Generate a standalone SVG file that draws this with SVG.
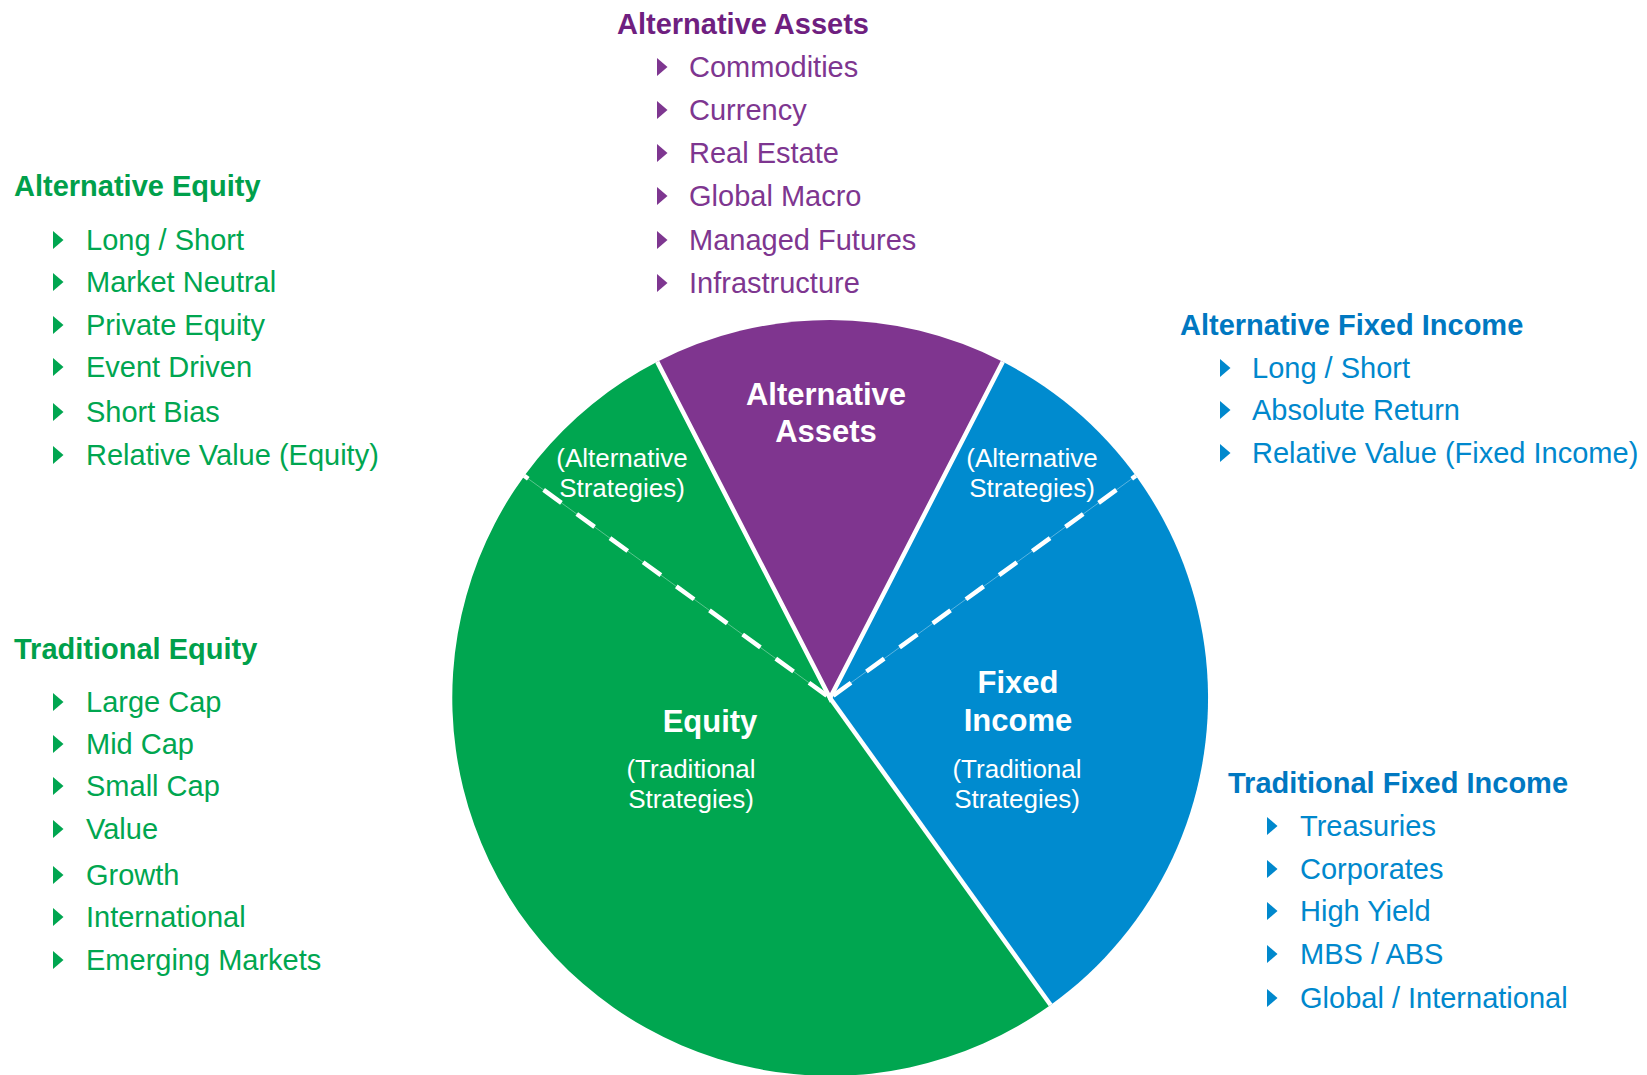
<svg xmlns="http://www.w3.org/2000/svg" xmlns:xlink="http://www.w3.org/1999/xlink" width="1647" height="1075" viewBox="0 0 1647 1075">
  <style>
    text { font-family: "Liberation Sans", Arial, sans-serif; }
    .hd { font-size: 29px; font-weight: bold; }
    .it { font-size: 29px; }
    .pl { font-size: 31px; font-weight: bold; fill: #ffffff; text-anchor: middle; }
    .ps { font-size: 26px; fill: #ffffff; text-anchor: middle; }
    .g-hd { fill: #00A04B; } .g-it { fill: #00A650; }
    .p-hd { fill: #6F1F80; } .p-it { fill: #7E3690; }
    .b-hd { fill: #0078C1; } .b-it { fill: #0088CD; }
    .sep { stroke: #ffffff; stroke-width: 4.5; fill: none; }
    .dash { stroke: #ffffff; stroke-width: 4.5; fill: none; stroke-dasharray: 22 19; stroke-dashoffset: 17; }
    .hair { stroke: #ffffff; stroke-width: 1; stroke-opacity: 0.35; fill: none; }
  </style>
  <defs>
    <!-- list bullet: right-pointing triangle, origin on the text baseline -->
    <path id="bullet" d="M0,-19 L10.5,-10 L0,-1 Z"/>
  </defs>
  <rect width="1647" height="1075" fill="#ffffff"/>

  <!-- Pie slices, centre (830,698), r 378 -->
  <g id="slice-equity">
    <path d="M830,698 L1050.6,1005 A378,378 0 1 1 657.2,361.8 Z" fill="#00A650"/>
    <text class="pl" x="710" y="732">Equity</text>
    <text class="ps" x="691" y="778">(Traditional</text>
    <text class="ps" x="691" y="808">Strategies)</text>
    <text class="ps" x="622" y="467">(Alternative</text>
    <text class="ps" x="622" y="497">Strategies)</text>
  </g>
  <g id="slice-alternative-assets">
    <path d="M830,698 L657.2,361.8 A378,378 0 0 1 1002.8,361.8 Z" fill="#7F358F"/>
    <text class="pl" x="826" y="405">Alternative</text>
    <text class="pl" x="826" y="442">Assets</text>
  </g>
  <g id="slice-fixed-income">
    <path d="M830,698 L1002.8,361.8 A378,378 0 0 1 1050.6,1005 Z" fill="#008BCF"/>
    <text class="pl" x="1018" y="693">Fixed</text>
    <text class="pl" x="1018" y="731">Income</text>
    <text class="ps" x="1017" y="778">(Traditional</text>
    <text class="ps" x="1017" y="808">Strategies)</text>
    <text class="ps" x="1032" y="467">(Alternative</text>
    <text class="ps" x="1032" y="497">Strategies)</text>
  </g>

  <!-- Slice dividers -->
  <g id="connectors">
    <path class="hair" d="M524.2,475.8 L830,698"/>
    <path class="hair" d="M1135.8,475.8 L830,698"/>
    <path class="dash" d="M524.2,475.8 L830,698"/>
    <path class="dash" d="M1135.8,475.8 L830,698"/>
    <path class="sep" d="M657.2,361.8 L830,698 L1002.8,361.8"/>
    <path class="sep" d="M830,698 L1050.6,1005"/>
  </g>

  <!-- Category lists -->
  <g id="list-alternative-assets">
    <text class="hd p-hd" x="617" y="34">Alternative Assets</text>
    <g class="p-it">
      <use xlink:href="#bullet" x="657" y="77"/>
      <use xlink:href="#bullet" x="657" y="120"/>
      <use xlink:href="#bullet" x="657" y="163"/>
      <use xlink:href="#bullet" x="657" y="206"/>
      <use xlink:href="#bullet" x="657" y="250"/>
      <use xlink:href="#bullet" x="657" y="293"/>
      <text class="it" x="689" y="77">Commodities</text>
      <text class="it" x="689" y="120">Currency</text>
      <text class="it" x="689" y="163">Real Estate</text>
      <text class="it" x="689" y="206">Global Macro</text>
      <text class="it" x="689" y="250">Managed Futures</text>
      <text class="it" x="689" y="293">Infrastructure</text>
    </g>
  </g>

  <g id="list-alternative-equity">
    <text class="hd g-hd" x="14" y="196">Alternative Equity</text>
    <g class="g-it">
      <use xlink:href="#bullet" x="53" y="250"/>
      <use xlink:href="#bullet" x="53" y="292"/>
      <use xlink:href="#bullet" x="53" y="335"/>
      <use xlink:href="#bullet" x="53" y="377"/>
      <use xlink:href="#bullet" x="53" y="422"/>
      <use xlink:href="#bullet" x="53" y="465"/>
      <text class="it" x="86" y="250">Long / Short</text>
      <text class="it" x="86" y="292">Market Neutral</text>
      <text class="it" x="86" y="335">Private Equity</text>
      <text class="it" x="86" y="377">Event Driven</text>
      <text class="it" x="86" y="422">Short Bias</text>
      <text class="it" x="86" y="465">Relative Value (Equity)</text>
    </g>
  </g>

  <g id="list-traditional-equity">
    <text class="hd g-hd" x="14" y="659">Traditional Equity</text>
    <g class="g-it">
      <use xlink:href="#bullet" x="53" y="712"/>
      <use xlink:href="#bullet" x="53" y="754"/>
      <use xlink:href="#bullet" x="53" y="796"/>
      <use xlink:href="#bullet" x="53" y="839"/>
      <use xlink:href="#bullet" x="53" y="885"/>
      <use xlink:href="#bullet" x="53" y="927"/>
      <use xlink:href="#bullet" x="53" y="970"/>
      <text class="it" x="86" y="712">Large Cap</text>
      <text class="it" x="86" y="754">Mid Cap</text>
      <text class="it" x="86" y="796">Small Cap</text>
      <text class="it" x="86" y="839">Value</text>
      <text class="it" x="86" y="885">Growth</text>
      <text class="it" x="86" y="927">International</text>
      <text class="it" x="86" y="970">Emerging Markets</text>
    </g>
  </g>

  <g id="list-alternative-fixed-income">
    <text class="hd b-hd" x="1180" y="335">Alternative Fixed Income</text>
    <g class="b-it">
      <use xlink:href="#bullet" x="1220" y="378"/>
      <use xlink:href="#bullet" x="1220" y="420"/>
      <use xlink:href="#bullet" x="1220" y="463"/>
      <text class="it" x="1252" y="378">Long / Short</text>
      <text class="it" x="1252" y="420">Absolute Return</text>
      <text class="it" x="1252" y="463">Relative Value (Fixed Income)</text>
    </g>
  </g>

  <g id="list-traditional-fixed-income">
    <text class="hd b-hd" x="1228" y="793">Traditional Fixed Income</text>
    <g class="b-it">
      <use xlink:href="#bullet" x="1267" y="836"/>
      <use xlink:href="#bullet" x="1267" y="879"/>
      <use xlink:href="#bullet" x="1267" y="921"/>
      <use xlink:href="#bullet" x="1267" y="964"/>
      <use xlink:href="#bullet" x="1267" y="1008"/>
      <text class="it" x="1300" y="836">Treasuries</text>
      <text class="it" x="1300" y="879">Corporates</text>
      <text class="it" x="1300" y="921">High Yield</text>
      <text class="it" x="1300" y="964">MBS / ABS</text>
      <text class="it" x="1300" y="1008">Global / International</text>
    </g>
  </g>
</svg>
